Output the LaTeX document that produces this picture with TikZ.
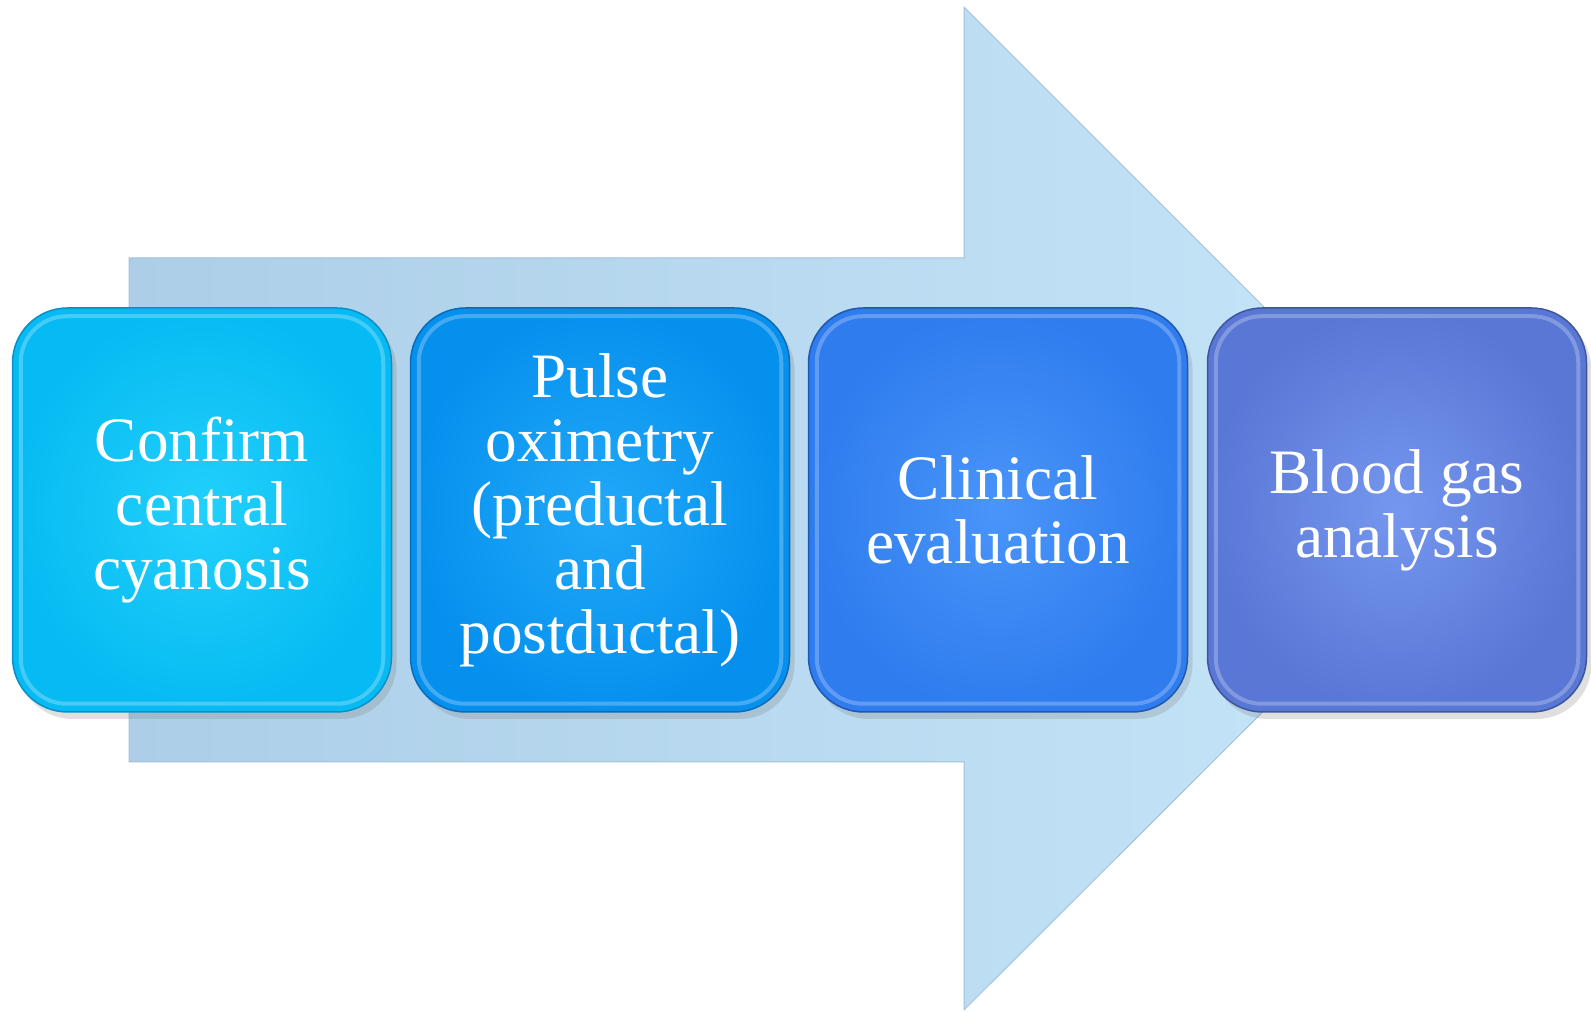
\documentclass[tikz,border=0pt]{standalone}
\usepackage{fontspec}
\setmainfont{Liberation Serif}
\usetikzlibrary{shadows}

\definecolor{arrowleft}{HTML}{ACCEE7}
\definecolor{arrowright}{HTML}{C6E6F9}
\definecolor{arrowedge}{HTML}{A2C1DA}
\definecolor{confirmin}{HTML}{22D0FB}
\definecolor{confirmout}{HTML}{06BBF3}
\definecolor{confirmedge}{HTML}{0A8FC8}
\definecolor{pulsein}{HTML}{20A9F8}
\definecolor{pulseout}{HTML}{0690EE}
\definecolor{pulseedge}{HTML}{0A6CB8}
\definecolor{clinin}{HTML}{4A95FA}
\definecolor{clinout}{HTML}{2E7CEE}
\definecolor{clinedge}{HTML}{2058B0}
\definecolor{bloodin}{HTML}{7597EF}
\definecolor{bloodout}{HTML}{5977D5}
\definecolor{bloodedge}{HTML}{3F559E}

\tikzset{
  stepbox/.style={rounded corners=5.5mm, minimum width=37.9mm, minimum height=40.4mm,
    line width=0.15mm, text=white, align=center,
    font=\fontsize{18}{18.2}\selectfont,
    drop shadow={shadow xshift=0.5mm, shadow yshift=-0.7mm, opacity=0.25}},
  bevel/.style={rounded corners=4.6mm, line width=0.4mm, draw=white, opacity=0.25},
}

\begin{document}
\begin{tikzpicture}[x=0.1mm,y=0.1mm]
\useasboundingbox (0,0) rectangle (1591,1013);

% big arrow behind the steps
\shade[left color=arrowleft, right color=arrowright, draw=arrowedge, line width=0.1mm]
  (129,251) -- (129,755) -- (964,755) -- (964,1006) -- (1466,504)
  -- (964,3) -- (964,251) -- cycle;

\node[stepbox, draw=confirmedge, inner color=confirmin, outer color=confirmout]
  (confirm) at (202,503) {Confirm\\central\\cyanosis};
\node[stepbox, draw=pulseedge, inner color=pulsein, outer color=pulseout]
  (pulse) at (600,503) {Pulse\\oximetry\\(preductal\\and\\postductal)};
\node[stepbox, draw=clinedge, inner color=clinin, outer color=clinout]
  (clinical) at (998,503) {Clinical\\evaluation};
\node[stepbox, draw=bloodedge, inner color=bloodin, outer color=bloodout]
  (blood) at (1397,503) {Blood gas\\analysis};

% light rim inside each step
\draw[bevel] ([shift={(9,-9)}]confirm.north west) rectangle ([shift={(-9,9)}]confirm.south east);
\draw[bevel] ([shift={(9,-9)}]pulse.north west) rectangle ([shift={(-9,9)}]pulse.south east);
\draw[bevel] ([shift={(9,-9)}]clinical.north west) rectangle ([shift={(-9,9)}]clinical.south east);
\draw[bevel] ([shift={(9,-9)}]blood.north west) rectangle ([shift={(-9,9)}]blood.south east);
\end{tikzpicture}
\end{document}
